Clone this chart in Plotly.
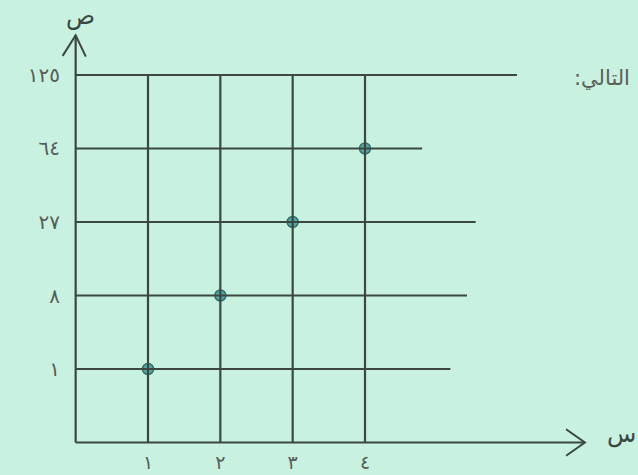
import plotly.graph_objects as go

# Values of y = x^3 and their labels (Arabic-Indic digits)
x_values = [1, 2, 3, 4]
y_values = [1, 8, 27, 64]
y_categories = [1, 8, 27, 64, 125]
y_tick_text = ["١", "٨", "٢٧", "٦٤", "١٢٥"]
x_tick_text = ["١", "٢", "٣", "٤"]

W, H = 638, 475
BG = "#c9f1df"
INK = "#3b4842"
LABEL = "#555d58"

# points sit on equally spaced category rows
y_index = [y_categories.index(v) for v in y_values]

fig = go.Figure()

# grid: horizontal row lines of uneven length, vertical lines up to the top row
row_ends = [5.18, 5.41, 5.53, 4.79, 6.10]
shapes = []
for i, end in enumerate(row_ends):
    shapes.append(dict(type="line", xref="x", yref="y", x0=0, x1=end, y0=i, y1=i,
                       line=dict(color=INK, width=2.2)))
for xv in x_values:
    shapes.append(dict(type="line", xref="x", yref="y", x0=xv, x1=xv, y0=-1,
                       y1=len(y_categories) - 1, line=dict(color=INK, width=2.2)))

# axes with open arrow heads
shapes.append(dict(type="line", xref="x", yref="y", x0=0, x1=0, y0=-1, y1=4.54,
                   line=dict(color=INK, width=2.2)))
shapes.append(dict(type="path", xref="x", yref="y",
                   path="M -0.18,4.26 L 0,4.54 L 0.14,4.25",
                   line=dict(color=INK, width=2)))
shapes.append(dict(type="line", xref="x", yref="y", x0=0, x1=7.03, y0=-1, y1=-1,
                   line=dict(color=INK, width=2.2)))
shapes.append(dict(type="path", xref="x", yref="y",
                   path="M 6.78,-0.82 L 7.04,-1.0 L 6.78,-1.18",
                   line=dict(color=INK, width=2)))

fig.add_trace(go.Scatter(
    x=x_values, y=y_index, mode="markers",
    marker=dict(size=11, color="#58a6a4", line=dict(color="#336f6d", width=1.5)),
    showlegend=False, hoverinfo="skip",
))

fig.update_layout(
    width=W, height=H,
    margin=dict(l=0, r=0, t=0, b=0),
    paper_bgcolor=BG, plot_bgcolor=BG,
    shapes=shapes,
    xaxis=dict(range=[-1.046, 7.774], domain=[0, 1], showgrid=False, zeroline=False,
               showline=False, tickmode="array", tickvals=x_values, ticktext=x_tick_text,
               ticks="", anchor="free", position=(H - 442) / H, ticklabelstandoff=7,
               tickfont=dict(family="DejaVu Sans", size=19, color=LABEL)),
    yaxis=dict(range=[-1.442, 5.02], domain=[0, 1], showgrid=False, zeroline=False,
               showline=False, tickmode="array", tickvals=list(range(len(y_categories))),
               ticktext=y_tick_text, ticks="", anchor="free", position=74 / W,
               ticklabelstandoff=14,
               tickfont=dict(family="DejaVu Sans", size=20, color=LABEL)),
    annotations=[
        dict(text="ص", xref="paper", yref="paper", x=64 / W, y=1, yanchor="top",
             showarrow=False, font=dict(family="DejaVu Sans", size=24, color=INK)),
        dict(text="س", xref="paper", yref="paper", x=638 / W, y=1 - 450 / H,
             showarrow=False, font=dict(family="DejaVu Sans", size=24, color=INK)),
        dict(text="التالي:\u200f", xref="paper", yref="paper", x=572 / W, y=1 - 64 / H,
             xanchor="left", showarrow=False,
             font=dict(family="DejaVu Sans", size=21, color="#5a5f5c")),
    ],
)

fig.write_html("out.html")
